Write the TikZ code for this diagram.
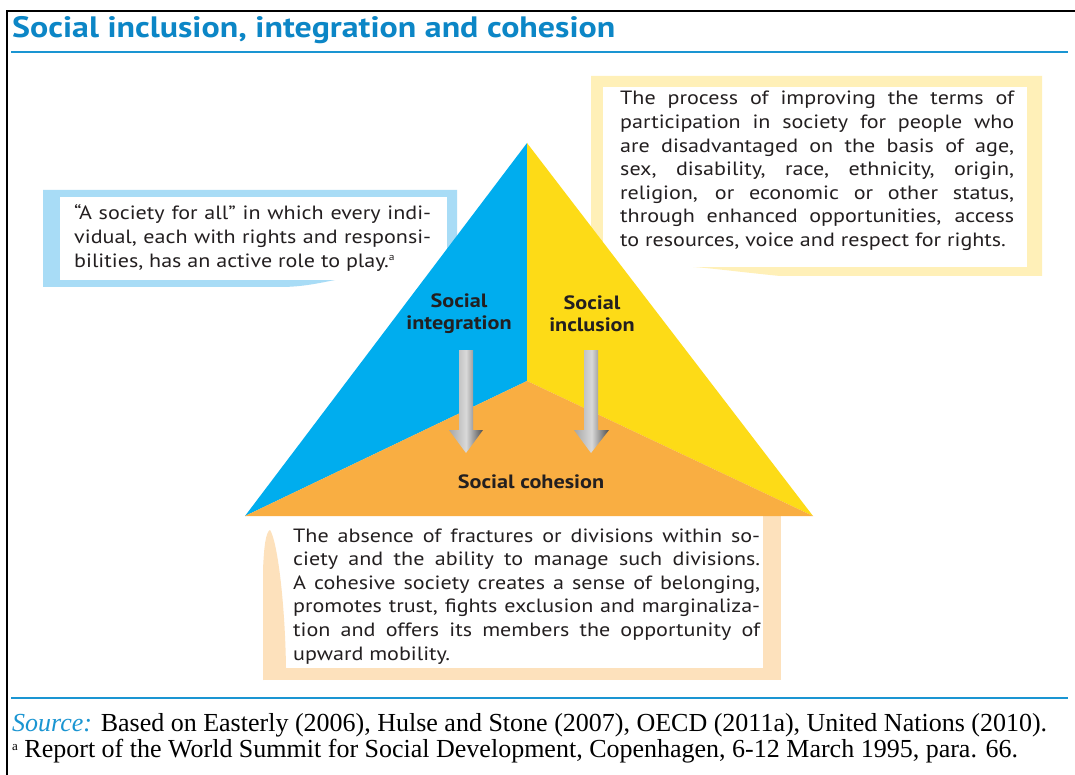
\documentclass[tikz,border=0pt]{standalone}
\usepackage{fontspec}
\setmainfont{PT Sans}[FakeStretch=1.15]
\newfontfamily\srcfont{Liberation Serif}
\definecolor{triblue}{RGB}{0,173,238}
\definecolor{triyellow}{RGB}{253,219,23}
\definecolor{triorange}{RGB}{249,174,66}
\definecolor{bandblue}{RGB}{168,220,246}
\definecolor{bandyellow}{RGB}{255,240,184}
\definecolor{bandpeach}{RGB}{253,225,188}
\definecolor{titleblue}{RGB}{12,134,198}
\definecolor{ruleblue}{RGB}{26,149,210}
\definecolor{txt}{RGB}{35,31,32}
\newcommand{\supa}[2]{\raisebox{#1}{\fontsize{#2}{#2}\selectfont a}}
\tikzset{
  bodytext/.style={anchor=base west, inner sep=0pt, align=justify, text=txt,
    font=\fontsize{19.2}{23.6}\selectfont},
  trilabel/.style={inner sep=0pt, align=center, text=txt,
    font=\bfseries\fontsize{19.3}{22}\selectfont},
  grayarrow/.style={left color=gray!70, right color=black!70, middle color=gray!30},
  srctext/.style={anchor=base west, inner sep=0pt, font=\srcfont\fontsize{26}{30}\selectfont},
}
\begin{document}
\begin{tikzpicture}[x=1pt,y=-1pt]
\useasboundingbox (0,0) rectangle (1075,775);
\fill[white] (0,0) rectangle (1075,775);
% frame
\draw[black, line width=1.5pt] (7,775) -- (7,11) -- (1075,11);
\node[anchor=base west, inner sep=0pt, text=titleblue, font=\bfseries\fontsize{29.5}{34}\selectfont] (title) at (12,38) {Social inclusion, integration and cohesion};
\draw[ruleblue, line width=1.4pt] (11,52) -- (1068,52);
\draw[ruleblue, line width=1.4pt] (11,698) -- (1068,698);

% left callout
\fill[bandblue] (43,190) -- (457,190) -- (457,280) -- (335,280)
   .. controls (315,284) and (300,287) .. (280,287) -- (43,287) -- cycle;
\fill[white] (60,197) rectangle (447,280);
% right callout
\fill[bandyellow] (591,76) -- (1042,76) -- (1042,276) -- (780,276)
   .. controls (740,272) and (710,268) .. (693,267) -- (591,267) -- cycle;
\fill[white] (603,87) rectangle (1027,267);
% bottom callout
\fill[bandpeach] (763,505) rectangle (781,680);
\fill[bandpeach] (263,668) rectangle (781,680);
\fill[bandpeach] (263,680) -- (263,570) .. controls (264,545) and (266,532) .. (270,530)
   .. controls (277,540) and (285,600) .. (286,668) -- cycle;

% triangle
\coordinate (apex) at (527,143);
\coordinate (bl) at (245,516);
\coordinate (br) at (813,516);
\coordinate (ctr) at (527,381);
\fill[triblue] (apex) -- (ctr) -- (bl) -- cycle;
\fill[triyellow] (apex) -- (br) -- (ctr) -- cycle;
\fill[triorange] (bl) -- (ctr) -- (br) -- cycle;

% texts
\node[bodytext, text width=357pt] (lefttext) at (74,220) {“A society for all” in which every indi-\linebreak vidual, each with rights and responsi-\linebreak bilities, has an active role to play.\supa{7pt}{10}};

\node[bodytext, text width=394pt] (righttext) at (620,105) {The process of improving the terms of\linebreak participation in society for people who\linebreak are disadvantaged on the basis of age,\linebreak sex, disability, race, ethnicity, origin,\linebreak religion, or economic or other status,\linebreak through enhanced opportunities, access\linebreak to resources, voice and respect for rights.};

\node[bodytext, text width=467pt] (bottomtext) at (293,542) {The absence of fractures or divisions within so-\linebreak ciety and the ability to manage such divisions.\linebreak A cohesive society creates a sense of belonging,\linebreak promotes trust, fights exclusion and marginaliza-\linebreak tion and offers its members the opportunity of\linebreak upward mobility.};

\node[trilabel] (integ) at (459,314) {Social\\integration};
\node[trilabel] (incl) at (592,314) {Social\\inclusion};
\node[trilabel] (cohes) at (531,482) {Social cohesion};

% arrows
\shade[grayarrow] (459,350) -- (473,350) -- (473,430) -- (483,430) -- (466,453) -- (449,430) -- (459,430) -- cycle;
\shade[grayarrow] (584,350) -- (598,350) -- (598,430) -- (609,430) -- (591,453) -- (574,430) -- (584,430) -- cycle;

% source
\node[srctext] (src) at (12,731) {\textcolor{ruleblue}{\itshape Source:} Based on Easterly (2006), Hulse and Stone (2007), OECD (2011a), United Nations (2010).};
\node[srctext] (foot) at (12,757) {\supa{7pt}{13} Report of the World Summit for Social Development, Copenhagen, 6-12 March 1995, para. 66.};
\end{tikzpicture}
\end{document}
